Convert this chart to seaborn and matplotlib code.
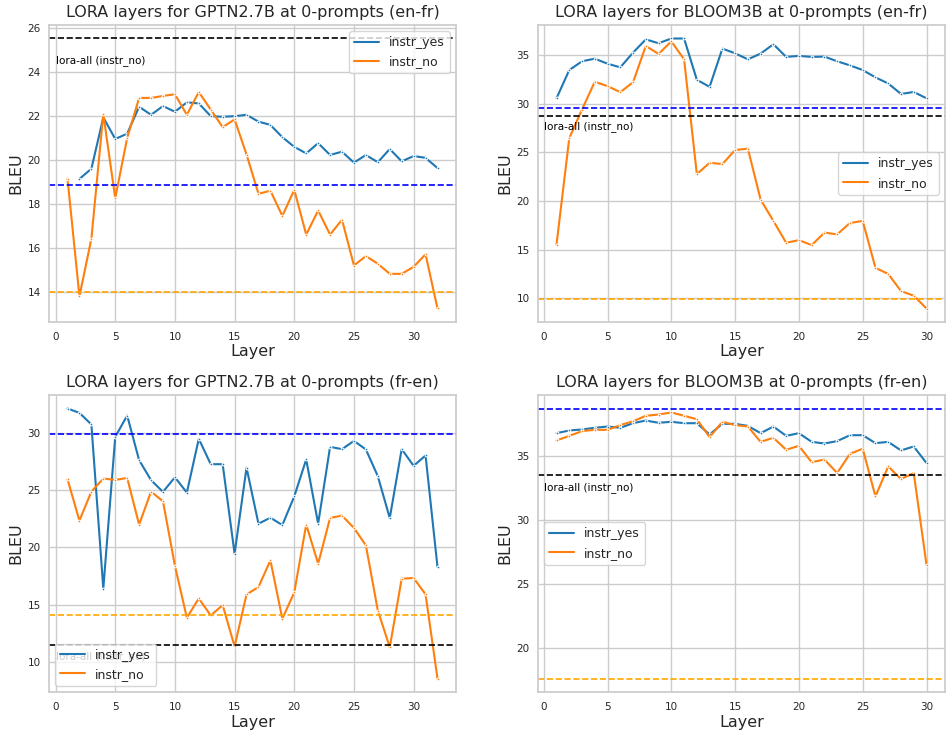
import numpy as np
import pandas as pd
import seaborn as sns
import matplotlib
matplotlib.use("Agg")
import matplotlib.pyplot as plt
from matplotlib.lines import Line2D

# GPTN2.7B en-fr
gpt_enfr_layers_yes = list(range(2, 33))
gpt_enfr_yes = [19.14, 19.6, 21.94, 20.96, 21.2, 22.43, 22.06, 22.46, 22.2, 22.63,
                22.58, 22.0, 21.97, 22.0, 22.06, 21.75, 21.6, 21.04, 20.6, 20.3,
                20.77, 20.23, 20.38, 19.88, 20.23, 19.9, 20.5, 19.94, 20.18, 20.1, 19.63]
gpt_enfr_layers_no = list(range(1, 33))
gpt_enfr_no = [19.15, 13.79, 16.41, 22.1, 18.26, 21.0, 22.83, 22.83, 22.92, 23.0,
               22.06, 23.1, 22.3, 21.5, 21.85, 20.25, 18.46, 18.6, 17.45, 18.64,
               16.6, 17.7, 16.6, 17.28, 15.19, 15.62, 15.27, 14.81, 14.81, 15.13,
               15.7, 13.23]
gpt_enfr_ref = {"black": 25.54, "blue": 18.84, "orange": 14.0}

# BLOOM3B en-fr
bloom_enfr_layers = list(range(1, 31))
bloom_enfr_yes = [30.55, 33.45, 34.35, 34.62, 34.1, 33.73, 35.24, 36.6, 36.2, 36.69,
                  36.69, 32.45, 31.73, 35.65, 35.17, 34.55, 35.14, 36.1, 34.8, 34.9,
                  34.8, 34.83, 34.35, 33.93, 33.45, 32.7, 32.07, 31.0, 31.2, 30.55]
bloom_enfr_no = [15.52, 26.45, 29.4, 32.25, 31.8, 31.18, 32.2, 35.93, 35.1, 36.4,
                 34.55, 22.76, 23.93, 23.8, 25.24, 25.38, 20.14, 17.96, 15.72, 15.99,
                 15.48, 16.76, 16.58, 17.75, 17.96, 13.14, 12.52, 10.76, 10.28, 8.97]
bloom_enfr_ref = {"black": 28.69, "blue": 29.55, "orange": 9.9}

# GPTN2.7B fr-en
gpt_fren_layers = list(range(1, 33))
gpt_fren_yes = [32.09, 31.71, 30.7, 16.4, 29.62, 31.48, 27.59, 25.85, 24.83, 26.1,
                24.77, 29.45, 27.24, 27.24, 19.45, 26.94, 22.06, 22.58, 21.94, 24.44,
                27.65, 22.06, 28.75, 28.55, 29.27, 28.52, 26.2, 22.55, 28.55, 27.1,
                28.0, 18.29]
gpt_fren_no = [25.93, 22.33, 24.85, 25.99, 25.87, 26.04, 21.98, 24.85, 24.01, 18.4,
               13.87, 15.55, 14.07, 14.97, 11.37, 15.9, 16.54, 18.87, 13.78, 16.08,
               21.98, 18.58, 22.56, 22.76, 21.69, 20.17, 14.5, 11.3, 17.27, 17.33,
               15.9, 8.58]
gpt_fren_ref = {"black": 11.48, "blue": 29.91, "orange": 14.07}

# BLOOM3B fr-en
bloom_fren_layers = list(range(1, 31))
bloom_fren_yes = [36.77, 36.98, 37.06, 37.19, 37.29, 37.19, 37.55, 37.76, 37.58, 37.66,
                  37.55, 37.55, 36.67, 37.5, 37.5, 37.34, 36.77, 37.29, 36.56, 36.77,
                  36.09, 35.96, 36.15, 36.61, 36.61, 35.99, 36.09, 35.42, 35.73, 34.43]
bloom_fren_no = [36.2, 36.56, 36.93, 37.03, 37.03, 37.4, 37.7, 38.13, 38.23, 38.39,
                 38.13, 37.86, 36.46, 37.66, 37.4, 37.29, 36.09, 36.41, 35.47, 35.78,
                 34.5, 34.71, 33.65, 35.16, 35.55, 31.82, 34.17, 33.18, 33.65, 26.48]
bloom_fren_ref = {"black": 33.49, "blue": 38.7, "orange": 17.58}

sns.set_theme(style="whitegrid")

panels = [
    ("LORA layers for GPTN2.7B at 0-prompts (en-fr)", gpt_enfr_layers_yes, gpt_enfr_yes,
     gpt_enfr_layers_no, gpt_enfr_no, gpt_enfr_ref, "upper right"),
    ("LORA layers for BLOOM3B at 0-prompts (en-fr)", bloom_enfr_layers, bloom_enfr_yes,
     bloom_enfr_layers, bloom_enfr_no, bloom_enfr_ref, "center right"),
    ("LORA layers for GPTN2.7B at 0-prompts (fr-en)", gpt_fren_layers, gpt_fren_yes,
     gpt_fren_layers, gpt_fren_no, gpt_fren_ref, "lower left"),
    ("LORA layers for BLOOM3B at 0-prompts (fr-en)", bloom_fren_layers, bloom_fren_yes,
     bloom_fren_layers, bloom_fren_no, bloom_fren_ref, "center left"),
]

# axes boxes in figure fraction (left, bottom, width, height)
W, H = 946, 732
boxes = [
    (49 / W, 1 - 322 / H, 407 / W, 297 / H),
    (538 / W, 1 - 322 / H, 407 / W, 297 / H),
    (49 / W, 1 - 692 / H, 407 / W, 297 / H),
    (538 / W, 1 - 692 / H, 407 / W, 297 / H),
]

blue, orange = "#1f77b4", "#ff7f0e"
fig = plt.figure(figsize=(9.46, 7.32), dpi=100)

for (title, lx_yes, y_yes, lx_no, y_no, ref, loc), box in zip(panels, boxes):
    ax = fig.add_axes(box)
    df_yes = pd.DataFrame({"Layer": lx_yes, "BLEU": y_yes})
    df_no = pd.DataFrame({"Layer": lx_no, "BLEU": y_no})
    sns.lineplot(data=df_yes, x="Layer", y="BLEU", ax=ax, color=blue,
                 marker=".", markersize=4, markeredgecolor="white", linewidth=1.5)
    sns.lineplot(data=df_no, x="Layer", y="BLEU", ax=ax, color=orange,
                 marker=".", markersize=4, markeredgecolor="white", linewidth=1.5)
    ax.axhline(ref["blue"], color="blue", linestyle="--", linewidth=1.2)
    ax.axhline(ref["black"], color="black", linestyle="--", linewidth=1.2)
    ax.axhline(ref["orange"], color="orange", linestyle="--", linewidth=1.2)
    ax.text(0, ref["black"] - 1, "lora-all (instr_no)", fontsize=7.5, va="center",
            ha="left", color="black")
    ax.set_title(title, fontsize=11.5)
    ax.set_xlabel("Layer", fontsize=11.5, labelpad=2)
    ax.set_ylabel("BLEU", fontsize=11.5, labelpad=3)
    ax.tick_params(axis="x", labelsize=7.5, length=0, pad=7)
    ax.tick_params(axis="y", labelsize=7.5, length=0, pad=6)
    handles = [Line2D([], [], color=blue, linewidth=1.5),
               Line2D([], [], color=orange, linewidth=1.5)]
    ax.legend(handles, ["instr_yes", "instr_no"], loc=loc, fontsize=9)

fig.savefig("out.png", dpi=100)
